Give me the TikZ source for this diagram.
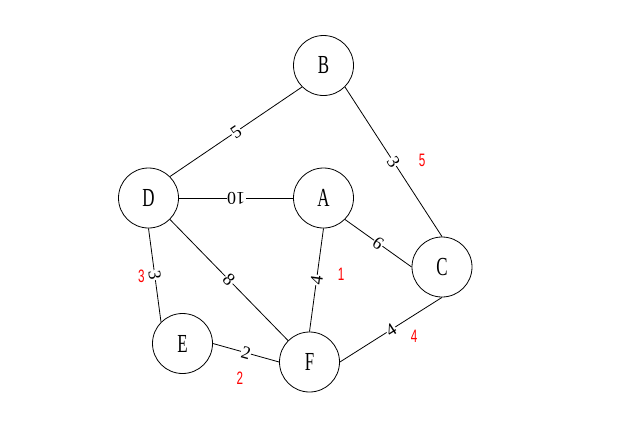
\documentclass[tikz,border=0pt]{standalone}
\usepackage{graphicx}
\usepackage{fontspec}
\setmainfont{Liberation Serif}
\newfontfamily\redfont{Liberation Sans}
\newcommand\mynarrow[2]{\scalebox{#1}[1]{#2}}
\begin{document}
\begin{tikzpicture}[x=1pt,y=-1pt,
  vert/.style={circle,draw,line width=0.8pt,minimum size=60pt,inner sep=0pt,
    font=\fontsize{26}{26}\selectfont},
  edge/.style={line width=0.8pt},
  elab/.style={fill=white,inner sep=0.5pt,sloped,allow upside down,
    font=\fontsize{18}{18}\selectfont},
  rlab/.style={text=red,inner sep=0pt,font=\redfont\fontsize{18}{18}\selectfont}]
\fill[white] (0,0) rectangle (624,429);
\useasboundingbox (0,0) rectangle (624,429);
\node[vert] (B) at (323.5,65.5) {\mynarrow{0.65}{B}};
\node[vert] (D) at (148.5,198) {\mynarrow{0.65}{D}};
\node[vert] (A) at (323.5,198) {\mynarrow{0.65}{A}};
\node[vert] (C) at (442,267) {\mynarrow{0.65}{C}};
\node[vert] (E) at (182.5,343.5) {\mynarrow{0.65}{E}};
\node[vert] (F) at (309.5,362) {\mynarrow{0.65}{F}};
\draw[edge] (D.45) -- node[elab] {5} (B.225);
\draw[edge] (B.-45) -- node[elab] {3} (C.90);
\draw[edge] (A.180) -- node[elab] {10} (D.0);
\draw[edge] (A.-45) -- node[elab] {6} (C.180);
\draw[edge] (D.270) -- node[elab] {3} (E.135);
\draw[edge] (D.-45) -- node[elab] {8} (F.135);
\draw[edge] (F.90) -- node[elab] {4} (A.270);
\draw[edge] (E.0) -- node[elab] {2} (F.180);
\draw[edge] (F.0) -- node[elab] {4} (C.270);
\node[rlab] (r5) at (422,160) {\mynarrow{0.65}{5}};
\node[rlab] (r1) at (341,274) {\mynarrow{0.65}{1}};
\node[rlab] (r4) at (414,336) {\mynarrow{0.65}{4}};
\node[rlab] (r2) at (240,378) {\mynarrow{0.65}{2}};
\node[rlab] (r3) at (141.5,276) {\mynarrow{0.65}{3}};
\end{tikzpicture}
\end{document}
